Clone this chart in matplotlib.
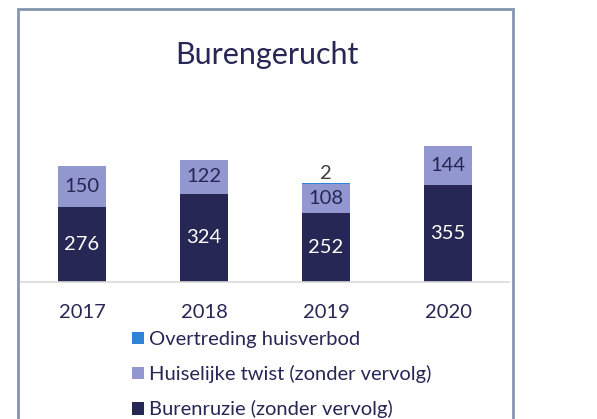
import matplotlib.pyplot as plt
from matplotlib.patches import Rectangle

# data
years = ["2017", "2018", "2019", "2020"]
burenruzie = [276, 324, 252, 355]
huiselijk = [150, 122, 108, 144]
huisverbod = [0, 0, 2, 0]

c_dark = "#262754"
c_light = "#9297CF"
c_blue = "#2E83D9"
c_text = "#262754"

plt.rcParams["font.family"] = ["Lato", "DejaVu Sans"]

W, H = 597, 419
fig = plt.figure(figsize=(W / 100, H / 100), dpi=100)

# rand om de grafiek
fig.patches.append(Rectangle((18 / W, -0.05), (513 - 18) / W, (419 - 9) / H + 0.05,
                             transform=fig.transFigure, fill=False,
                             edgecolor="#8497B0", linewidth=2))

ax = fig.add_axes([21 / W, (419 - 282) / H, 488 / W, 150 / H])
x = range(len(years))
bw = 0.39
b1 = ax.bar(x, burenruzie, bw, color=c_dark, label="Burenruzie (zonder vervolg)")
b2 = ax.bar(x, huiselijk, bw, bottom=burenruzie, color=c_light,
            label="Huiselijke twist (zonder vervolg)")
bottom2 = [a + b for a, b in zip(burenruzie, huiselijk)]
b3 = ax.bar(x, huisverbod, bw, bottom=bottom2, color=c_blue,
            label="Overtreding huisverbod")

fs = 14.5
# labels in de staven
for i in x:
    ax.text(i, burenruzie[i] / 2, str(burenruzie[i]), ha="center", va="center",
            color="white", fontsize=fs)
    ax.text(i, burenruzie[i] + huiselijk[i] / 2, str(huiselijk[i]), ha="center",
            va="center", color=c_text, fontsize=fs)
    if huisverbod[i]:
        ax.text(i, bottom2[i] + huisverbod[i] + 6, str(huisverbod[i]), ha="center",
                va="bottom", color="#404040", fontsize=fs)

ax.set_xlim(-0.5, 3.5)
ax.set_ylim(0, 550)
ax.set_xticks(list(x))
ax.set_xticklabels(years, fontsize=fs, color=c_text)
ax.tick_params(axis="x", length=0, pad=16)
ax.set_yticks([])
for s in ["top", "right", "left"]:
    ax.spines[s].set_visible(False)
ax.spines["bottom"].set_color("#D9D9D9")
ax.spines["bottom"].set_linewidth(1.2)

fig.text(267 / W, 1 - 55 / H, "Burengerucht", ha="center", va="center",
         fontsize=22, color=c_text)

leg = fig.legend(handles=[b3, b2, b1], loc="upper left",
                 bbox_to_anchor=(132 / W, 1 - 331 / H), frameon=False,
                 fontsize=fs, handlelength=0.6, handleheight=0.6,
                 handletextpad=0.25, labelspacing=0.85, borderpad=0,
                 borderaxespad=0, labelcolor=c_text)

fig.savefig("out.png", dpi=100)
